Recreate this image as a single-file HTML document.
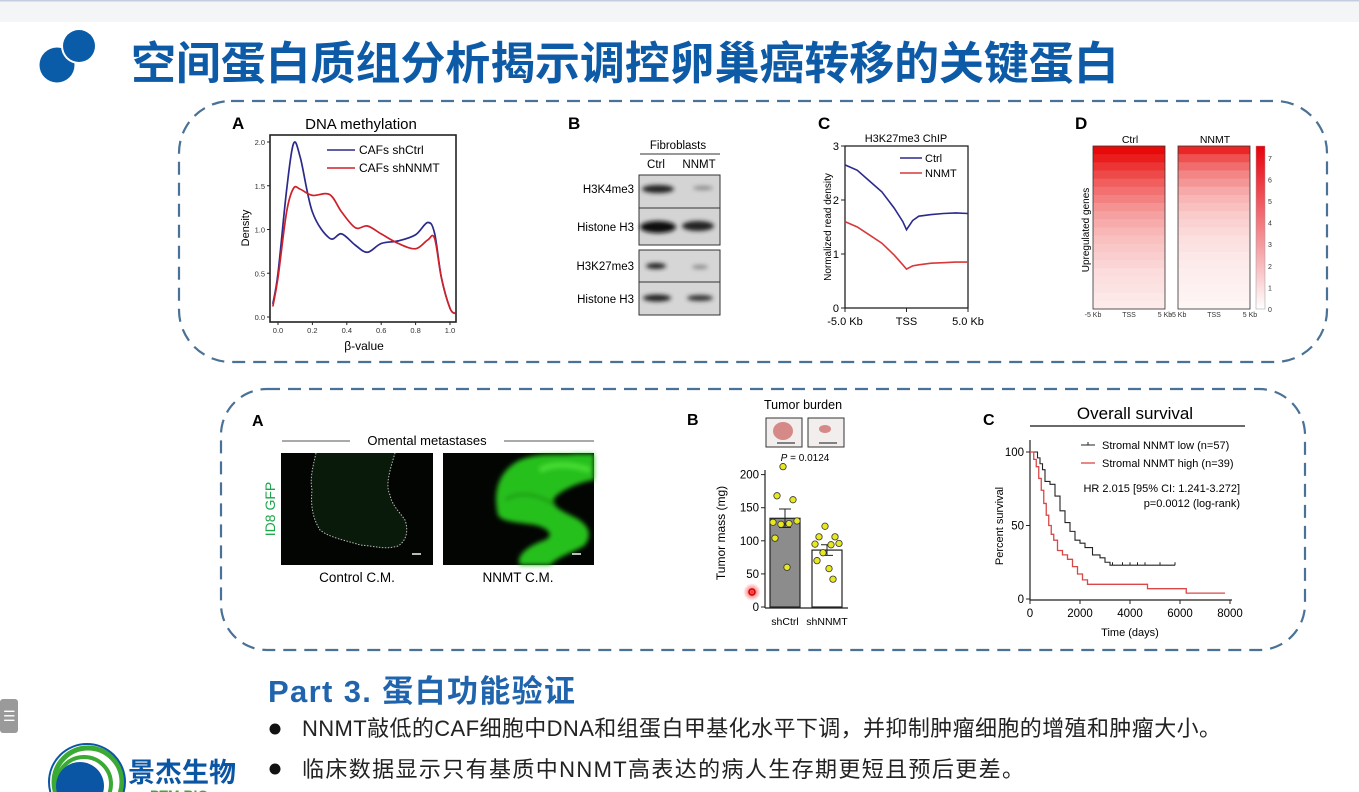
<!DOCTYPE html>
<html><head><meta charset="utf-8">
<style>
html,body{margin:0;padding:0;background:#fff;}
svg{display:block;}
text{font-family:"Liberation Sans","Noto Sans CJK SC",sans-serif;}
.cjk{font-family:"Liberation Sans","Noto Sans CJK SC",sans-serif;}
</style></head>
<body>
<svg id="root" width="1359" height="792" viewBox="0 0 1359 792" xmlns="http://www.w3.org/2000/svg">
<defs>
 <filter id="blur1"><feGaussianBlur stdDeviation="2"/></filter>
 <filter id="blur3"><feGaussianBlur stdDeviation="2.5"/></filter>
 <radialGradient id="reddot"><stop offset="0" stop-color="#ff2020"/><stop offset="0.5" stop-color="#ff6060" stop-opacity="0.6"/><stop offset="1" stop-color="#ff8080" stop-opacity="0"/></radialGradient>
 <linearGradient id="cbar" x1="0" y1="1" x2="0" y2="0"><stop offset="0" stop-color="#ffffff"/><stop offset="1" stop-color="#e8000b"/></linearGradient>
</defs>
<rect x="0" y="0" width="1359" height="22" fill="#f4f5f7"/>
<rect x="0" y="0" width="1359" height="1.5" fill="#c4cde0"/>
<g>
 <circle cx="57" cy="65" r="17.5" fill="#0a5ca8"/>
 <circle cx="79" cy="46" r="18" fill="#fff"/>
 <circle cx="79" cy="46" r="16" fill="#0a5ca8"/>
</g>
<text x="131" y="79" font-size="45" font-weight="bold" fill="#0d5aa7" class="cjk" letter-spacing="0.3" textLength="988">空间蛋白质组分析揭示调控卵巢癌转移的关键蛋白</text>

<rect x="179" y="101" width="1148" height="261" rx="52" fill="none" stroke="#4a7196" stroke-width="2.2" stroke-dasharray="13,8"/>
<rect x="221" y="389" width="1084" height="261" rx="46" fill="none" stroke="#4a7196" stroke-width="2.2" stroke-dasharray="13,8"/>

<!-- Top A -->
<g id="topA">
 <text x="232" y="129" font-size="17" font-weight="bold">A</text>
 <text x="361" y="129" font-size="15" text-anchor="middle">DNA methylation</text>
 <rect x="270" y="135" width="186" height="187" fill="none" stroke="#222" stroke-width="1.6"/>
 <text transform="translate(249,228) rotate(-90)" font-size="11" text-anchor="middle">Density</text>
 <text x="364" y="350" font-size="12" text-anchor="middle">β-value</text>
 <line x1="327" y1="150" x2="355" y2="150" stroke="#2b2a8c" stroke-width="1.6"/>
 <text x="359" y="154" font-size="12">CAFs shCtrl</text>
 <line x1="327" y1="168" x2="355" y2="168" stroke="#d0202a" stroke-width="1.6"/>
 <text x="359" y="172" font-size="12">CAFs shNNMT</text>
</g>

<!-- Top B western -->
<g>
 <text x="568" y="129" font-size="17" font-weight="bold">B</text>
 <text x="678" y="149" font-size="11.5" text-anchor="middle">Fibroblasts</text>
 <line x1="640" y1="154" x2="720" y2="154" stroke="#333" stroke-width="1"/>
 <text x="656" y="168" font-size="11.5" text-anchor="middle">Ctrl</text>
 <text x="699" y="168" font-size="11.5" text-anchor="middle">NNMT</text>
 <rect x="639" y="175" width="81" height="70" fill="#d4d4d4" stroke="#333"/>
 <line x1="639" y1="208" x2="720" y2="208" stroke="#333"/>
 <rect x="639" y="250" width="81" height="65" fill="#d6d6d6" stroke="#333"/>
 <line x1="639" y1="282" x2="720" y2="282" stroke="#333"/>
 <g filter="url(#blur1)">
  <ellipse cx="658" cy="189" rx="16" ry="4" fill="#222"/>
  <ellipse cx="703" cy="188" rx="10" ry="2" fill="#888"/>
  <ellipse cx="658" cy="227" rx="18" ry="6" fill="#111"/>
  <ellipse cx="698" cy="226" rx="16" ry="5" fill="#222"/>
  <ellipse cx="656" cy="266" rx="10" ry="3" fill="#222"/>
  <ellipse cx="700" cy="267" rx="8" ry="2" fill="#888"/>
  <ellipse cx="657" cy="298" rx="14" ry="3.5" fill="#222"/>
  <ellipse cx="700" cy="298" rx="13" ry="3" fill="#333"/>
 </g>
 <text x="634" y="193" font-size="11.5" text-anchor="end">H3K4me3</text>
 <text x="634" y="231" font-size="11.5" text-anchor="end">Histone H3</text>
 <text x="634" y="270" font-size="11.5" text-anchor="end">H3K27me3</text>
 <text x="634" y="303" font-size="11.5" text-anchor="end">Histone H3</text>
</g>

<!-- Top C -->
<g id="topC">
 <text x="818" y="129" font-size="17" font-weight="bold">C</text>
 <text x="906" y="142" font-size="11" text-anchor="middle">H3K27me3 ChIP</text>
 <rect x="845" y="146" width="123" height="162" fill="none" stroke="#222" stroke-width="1.3"/>
 <text transform="translate(831,227) rotate(-90)" font-size="10" text-anchor="middle">Normalized read density</text>
 <line x1="900" y1="158" x2="922" y2="158" stroke="#2b2a8c" stroke-width="1.5"/>
 <text x="925" y="162" font-size="11">Ctrl</text>
 <line x1="900" y1="173" x2="922" y2="173" stroke="#d8383a" stroke-width="1.5"/>
 <text x="925" y="177" font-size="11">NNMT</text>
</g>

<!-- Top D -->
<g id="topD">
 <text x="1075" y="129" font-size="17" font-weight="bold">D</text>
 <text x="1130" y="143" font-size="10.5" text-anchor="middle">Ctrl</text>
 <text x="1215" y="143" font-size="10.5" text-anchor="middle">NNMT</text>
 <text transform="translate(1089,230) rotate(-90)" font-size="10" text-anchor="middle">Upregulated genes</text>
 <rect x="1256" y="146" width="9" height="163" fill="url(#cbar)" stroke="#999" stroke-width="0.5"/>
</g>

<!-- Bottom A images -->
<g>
 <text x="252" y="426" font-size="16" font-weight="bold">A</text>
 <line x1="282" y1="441" x2="350" y2="441" stroke="#555"/>
 <line x1="504" y1="441" x2="594" y2="441" stroke="#555"/>
 <text x="427" y="445" font-size="13" text-anchor="middle">Omental metastases</text>
 <rect x="281" y="453" width="152" height="112" fill="#030503"/>
 <path d="M316 453 C312 470 310 480 312 490 C310 510 315 522 320 530 C330 538 345 540 360 545 C375 546 385 550 398 546 C408 540 408 528 405 520 C398 510 392 505 390 495 C385 485 390 470 395 453" fill="#0a1a0a" stroke="#bbb" stroke-width="1" stroke-dasharray="1.5,1.5"/>
 <rect x="412" y="553" width="9" height="2" fill="#bbb"/>
 <rect x="443" y="453" width="151" height="112" fill="#030503"/>
 <g filter="url(#blur3)">
  <path d="M498 515 C492 490 500 470 520 460 C540 452 560 456 575 454 L594 454 L594 480 C580 482 566 488 556 496 C548 505 560 510 576 518 C590 526 592 535 585 545 C575 552 560 555 550 565 L520 565 C515 555 530 545 545 540 C555 535 548 528 535 525 C515 522 502 522 498 515 Z" fill="#27c01a"/>
  <path d="M540 470 C555 462 575 465 590 470" stroke="#48e035" stroke-width="5" fill="none"/>
  <path d="M505 500 C520 490 540 495 555 505" stroke="#1a9a12" stroke-width="3" fill="none"/>
 </g>
 <rect x="572" y="553" width="9" height="2" fill="#bbb"/>
 <text transform="translate(275,509) rotate(-90)" font-size="14" fill="#1aa64a" text-anchor="middle">ID8 GFP</text>
 <text x="357" y="582" font-size="13.5" text-anchor="middle">Control C.M.</text>
 <text x="518" y="582" font-size="13.5" text-anchor="middle">NNMT C.M.</text>
</g>

<!-- Bottom B bar -->
<g id="botB">
 <text x="687" y="425" font-size="16" font-weight="bold">B</text>
 <text x="803" y="409" font-size="12.5" text-anchor="middle">Tumor burden</text>
 <g>
  <rect x="766" y="418" width="36" height="29" fill="#f3eeee" stroke="#333"/>
  <rect x="808" y="418" width="36" height="29" fill="#f3eeee" stroke="#333"/>
  <ellipse cx="783" cy="431" rx="10" ry="9" fill="#d58a88"/>
  <ellipse cx="825" cy="429" rx="6" ry="4" fill="#d58a88"/>
  <line x1="777" y1="443" x2="795" y2="443" stroke="#111"/>
  <line x1="819" y1="443" x2="837" y2="443" stroke="#111"/>
 </g>
 <text x="805" y="461" font-size="10" text-anchor="middle"><tspan font-style="italic">P</tspan> = 0.0124</text>
 <text transform="translate(725,533) rotate(-90)" font-size="12" text-anchor="middle">Tumor mass (mg)</text>
 <circle cx="752" cy="592" r="9" fill="url(#reddot)"/>
 <circle cx="752" cy="592" r="3" fill="none" stroke="#c00" stroke-width="1.5"/>
</g>

<!-- Bottom C survival -->
<g id="botC">
 <text x="983" y="425" font-size="16" font-weight="bold">C</text>
 <text x="1135" y="419" font-size="17" text-anchor="middle">Overall survival</text>
 <line x1="1030" y1="426" x2="1245" y2="426" stroke="#111" stroke-width="1.3"/>
 <text transform="translate(1003,526) rotate(-90)" font-size="11" text-anchor="middle">Percent survival</text>
 <text x="1130" y="636" font-size="11" text-anchor="middle">Time (days)</text>
 <line x1="1081" y1="445" x2="1095" y2="445" stroke="#222" stroke-width="1"/><line x1="1088" y1="442" x2="1088" y2="445" stroke="#222"/>
 <text x="1102" y="449" font-size="11">Stromal NNMT low (n=57)</text>
 <line x1="1081" y1="463" x2="1095" y2="463" stroke="#d84848" stroke-width="1.3"/>
 <text x="1102" y="467" font-size="11">Stromal NNMT high (n=39)</text>
 <text x="1240" y="492" font-size="11" text-anchor="end">HR 2.015 [95% CI: 1.241-3.272]</text>
 <text x="1240" y="507" font-size="11" text-anchor="end">p=0.0012 (log-rank)</text>
</g>

<!-- Bottom text -->
<text x="268" y="702" font-size="31" font-weight="bold" fill="#1f64ad" class="cjk" textLength="307">Part 3. 蛋白功能验证</text>
<circle cx="275" cy="729" r="5.5" fill="#111"/>
<text x="302" y="736" font-size="22" fill="#222" class="cjk" textLength="919">NNMT敲低的CAF细胞中DNA和组蛋白甲基化水平下调，并抑制肿瘤细胞的增殖和肿瘤大小。</text>
<circle cx="275" cy="769" r="5.5" fill="#111"/>
<text x="302" y="777" font-size="22" fill="#222" class="cjk" textLength="722">临床数据显示只有基质中NNMT高表达的病人生存期更短且预后更差。</text>

<!-- side button -->
<rect x="0" y="699" width="18" height="34" rx="3" fill="#9a9a9a"/>
<text x="3" y="721" font-size="14" fill="#fff">☰</text>

<!-- company logo -->
<g>
 <circle cx="88" cy="782" r="34" fill="none" stroke="#3aaa35" stroke-width="5"/>
 <circle cx="84" cy="784" r="27" fill="none" stroke="#3aaa35" stroke-width="4"/>
 <circle cx="80" cy="786" r="24" fill="#0b56a4"/>
 <circle cx="87" cy="782" r="38" fill="none" stroke="#0b56a4" stroke-width="2"/>
 <text x="128" y="782" font-size="27" font-weight="bold" fill="#0b56a4" class="cjk">景杰生物</text>
 <text x="150" y="800" font-size="14" font-weight="bold" fill="#3aaa35">PTM BIO</text>
</g>
</svg>

<script>
const NS='http://www.w3.org/2000/svg';
function mk(tag,attrs,parent){const e=document.createElementNS(NS,tag);for(const k in attrs)e.setAttribute(k,attrs[k]);parent.appendChild(e);return e;}
function smooth(pts){let d='M'+pts[0][0]+' '+pts[0][1];for(let i=0;i<pts.length-1;i++){const p0=pts[i-1]||pts[i],p1=pts[i],p2=pts[i+1],p3=pts[i+2]||p2;const c1=[p1[0]+(p2[0]-p0[0])/6,p1[1]+(p2[1]-p0[1])/6],c2=[p2[0]-(p3[0]-p1[0])/6,p2[1]-(p3[1]-p1[1])/6];d+=' C'+c1[0]+' '+c1[1]+' '+c2[0]+' '+c2[1]+' '+p2[0]+' '+p2[1];}return d;}

/* ---- Top A: DNA methylation density ---- */
const betaX=[-0.03,0.0,0.05,0.09,0.13,0.2,0.3,0.37,0.45,0.52,0.6,0.7,0.8,0.87,0.91,0.95,1.0,1.03];
const densShCtrl=[0.15,0.5,1.45,1.98,1.82,1.2,0.9,0.95,0.82,0.74,0.84,0.87,0.94,1.08,0.96,0.45,0.1,0.04];
const densShNNMT=[0.12,0.45,1.2,1.47,1.46,1.39,1.4,1.2,1.02,1.04,0.95,0.84,0.78,0.88,0.9,0.45,0.1,0.04];
const densYTicks=[0,0.5,1,1.5,2];
const betaXTicks=[0,0.2,0.4,0.6,0.8,1.0];
(function(){
 const g=document.getElementById('topA');
 const xs=v=>278+v*172, ys=v=>317-v*87.5;
 densYTicks.forEach(t=>{const l=mk('line',{x1:267,y1:ys(t),x2:270,y2:ys(t),stroke:'#222'},g);
  const tx=mk('text',{x:265,y:ys(t)+3,'font-size':7.5,'text-anchor':'end',fill:'#333'},g);tx.textContent=t.toFixed(1);});
 betaXTicks.forEach(t=>{const l=mk('line',{x1:xs(t),y1:322,x2:xs(t),y2:325,stroke:'#222'},g);
  const tx=mk('text',{x:xs(t),y:333,'font-size':7.5,'text-anchor':'middle',fill:'#333'},g);tx.textContent=t.toFixed(1);});
 const a=mk('path',{d:smooth(betaX.map((x,i)=>[xs(x),ys(densShCtrl[i])])),fill:'none',stroke:'#2b2a8c','stroke-width':1.7},g);
 
 const b=mk('path',{d:smooth(betaX.map((x,i)=>[xs(x),ys(densShNNMT[i])])),fill:'none',stroke:'#d0202a','stroke-width':1.7},g);
 
})();

/* ---- Top C: ChIP profile ---- */
const chipX=[-5,-4,-3,-2,-1,-0.3,0,0.5,1,2,3,4,5];
const chipCtrl=[2.65,2.55,2.35,2.15,1.85,1.6,1.45,1.62,1.7,1.73,1.75,1.76,1.75];
const chipNNMT=[1.6,1.5,1.35,1.2,0.98,0.8,0.72,0.78,0.8,0.83,0.84,0.85,0.85];
const chipYTicks=[0,1,2,3];
const chipXTicks=['-5.0 Kb','TSS','5.0 Kb'];
const chipXTickPos=[-5,0,5];
(function(){
 const g=document.getElementById('topC');
 const xs=v=>906.5+v*12.3, ys=v=>308-v*54;
 chipYTicks.forEach(t=>{const l=mk('line',{x1:841,y1:ys(t),x2:845,y2:ys(t),stroke:'#222'},g);
  const tx=mk('text',{x:839,y:ys(t)+4,'font-size':11,'text-anchor':'end'},g);tx.textContent=t;});
 chipXTicks.forEach((t,i)=>{const x=xs(chipXTickPos[i]);const l=mk('line',{x1:x,y1:308,x2:x,y2:312,stroke:'#222'},g);
  const tx=mk('text',{x:x,y:325,'font-size':11,'text-anchor':'middle'},g);tx.textContent=t;});
 const a=mk('polyline',{points:chipX.map((x,i)=>xs(x)+','+ys(chipCtrl[i])).join(' '),fill:'none',stroke:'#2b2a8c','stroke-width':1.6},g);
 
 const b=mk('polyline',{points:chipX.map((x,i)=>xs(x)+','+ys(chipNNMT[i])).join(' '),fill:'none',stroke:'#d8383a','stroke-width':1.6},g);
 
})();

/* ---- Top D: heatmaps (row-band intensities, 0..7) ---- */
const heatCtrlRows=[7,6.5,5.8,5.2,4.6,4.1,3.6,3.1,2.7,2.4,2.1,1.8,1.6,1.4,1.2,1.0,0.9,0.8,0.7,0.6];
const heatNNMTRows=[6.2,5.0,4.2,3.5,3.0,2.5,2.1,1.8,1.5,1.3,1.1,0.9,0.8,0.7,0.6,0.5,0.45,0.4,0.35,0.3];
const heatColTicks=['-5 Kb','TSS','5 Kb'];
const cbarTicks=[0,1,2,3,4,5,6,7];
(function(){
 const g=document.getElementById('topD');
 const top=146,h=163,n=heatCtrlRows.length,rh=h/n;
 const col=v=>{const f=Math.max(0,Math.min(1,v/7));const gb=Math.round(255-f*245);return 'rgb('+Math.round(255-f*23)+','+gb+','+gb+')';};
 [[heatCtrlRows,1093,'ctrl'],[heatNNMTRows,1178,'nnmt']].forEach(([rows,x0,nm])=>{
  rows.forEach((v,i)=>{const r=mk('rect',{x:x0,y:top+i*rh,width:72,height:rh+0.6,fill:col(v)},g);
   });
  const fr=mk('rect',{x:x0,y:top,width:72,height:h,fill:'none',stroke:'#333','stroke-width':0.8},g);
  
  heatColTicks.forEach((t,i)=>{const tx=mk('text',{x:x0+i*36,y:317,'font-size':7,'text-anchor':'middle',fill:'#333'},g);tx.textContent=t;
   });
 });
 cbarTicks.forEach(t=>{const y=309-t*21.6;const tx=mk('text',{x:1268,y:y+3,'font-size':7,fill:'#333'},g);tx.textContent=t;
  });
})();

/* ---- Bottom B: tumor mass bars ---- */
const barGroups=['shCtrl','shNNMT'];
const barMeans=[134,86];
const barSem=[14,8];
const ptsShCtrl=[212,168,162,130,128,126,125,104,60];
const ptsShNNMT=[122,106,106,96,95,94,82,70,58,42];
const massTicks=[0,50,100,150,200];
(function(){
 const g=document.getElementById('botB');
 const ys=v=>607-v*0.662, cx=[785,827];
 const ax=mk('line',{x1:765,y1:470,x2:765,y2:608,stroke:'#222','stroke-width':1.2},g);
 const bx=mk('line',{x1:765,y1:608,x2:848,y2:608,stroke:'#222','stroke-width':1.2},g);
 massTicks.forEach(t=>{const l=mk('line',{x1:761,y1:ys(t),x2:765,y2:ys(t),stroke:'#222'},g);
  const tx=mk('text',{x:759,y:ys(t)+4,'font-size':11.5,'text-anchor':'end'},g);tx.textContent=t;});
 barGroups.forEach((gname,i)=>{
  const r=mk('rect',{x:cx[i]-15,y:ys(barMeans[i]),width:30,height:ys(0)-ys(barMeans[i]),fill:i?'#fff':'#8c8c8c',stroke:'#222','stroke-width':1.2},g);
  
  const e=mk('path',{d:'M'+cx[i]+' '+ys(barMeans[i]-barSem[i])+' V'+ys(barMeans[i]+barSem[i])+' M'+(cx[i]-6)+' '+ys(barMeans[i]+barSem[i])+' h12 M'+(cx[i]-6)+' '+ys(barMeans[i]-barSem[i])+' h12',stroke:'#222',fill:'none'},g);
  
  const tx=mk('text',{x:cx[i],y:625,'font-size':10.5,'text-anchor':'middle'},g);tx.textContent=gname;
 });
 const off=[-2,-8,8,12,-12,4,-4,-10,2,6];
 [ptsShCtrl,ptsShNNMT].forEach((arr,i)=>arr.forEach((v,j)=>{
  const c=mk('circle',{cx:cx[i]+off[j%off.length],cy:ys(v),r:3.2,fill:'#e8e820',stroke:'#333','stroke-width':0.8},g);
  }));
})();

/* ---- Bottom C: Kaplan-Meier ---- */
const kmLowT=[0,200,300,400,500,600,800,1000,1200,1400,1600,1800,2000,2200,2500,2800,3000,3200,5800];
const kmLowS=[100,100,96,92,88,80,78,70,60,52,46,40,38,35,30,28,25,23,23];
const kmHighT=[0,150,250,350,450,550,650,750,850,950,1100,1300,1500,1700,1900,2100,2300,4600,4700,6200,6250,7800];
const kmHighS=[100,95,90,82,74,65,57,50,44,40,33,30,27,22,17,13,10,10,7,7,4,4];
const kmCensorLow=[3300,3700,4000,4300,4600,5200,5800];
const kmXTicks=[0,2000,4000,6000,8000];
const kmYTicks=[0,50,100];
(function(){
 const g=document.getElementById('botC');
 const xs=v=>1030+v*0.025, ys=v=>599-v*1.47;
 const ax=mk('path',{d:'M1030 440 V600 H1232',fill:'none',stroke:'#222','stroke-width':1.2},g);
 kmYTicks.forEach(t=>{const l=mk('line',{x1:1026,y1:ys(t),x2:1030,y2:ys(t),stroke:'#222'},g);
  const tx=mk('text',{x:1024,y:ys(t)+4,'font-size':11.5,'text-anchor':'end'},g);tx.textContent=t;});
 kmXTicks.forEach(t=>{const l=mk('line',{x1:xs(t),y1:600,x2:xs(t),y2:604,stroke:'#222'},g);
  const tx=mk('text',{x:xs(t),y:617,'font-size':11.5,'text-anchor':'middle'},g);tx.textContent=t;});
 const step=(T,S)=>{let d='M'+xs(T[0])+' '+ys(S[0]);for(let i=1;i<T.length;i++){d+=' H'+xs(T[i])+' V'+ys(S[i]);}return d;};
 const lo=mk('path',{d:step(kmLowT,kmLowS),fill:'none',stroke:'#222','stroke-width':1.1},g);
 const hi=mk('path',{d:step(kmHighT,kmHighS),fill:'none',stroke:'#d84848','stroke-width':1.3},g);
 kmCensorLow.forEach(t=>{const c=mk('line',{x1:xs(t),y1:ys(23)-3,x2:xs(t),y2:ys(23),stroke:'#222'},g);});
})();
</script>
</body></html>
